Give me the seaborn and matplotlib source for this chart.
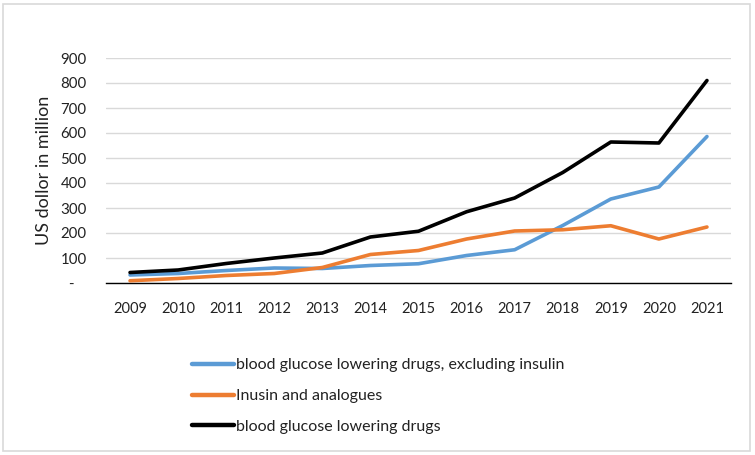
import matplotlib
matplotlib.use("Agg")
import matplotlib.pyplot as plt
import seaborn as sns
import pandas as pd
from matplotlib.patches import Rectangle

years = [2009, 2010, 2011, 2012, 2013, 2014, 2015, 2016, 2017, 2018, 2019, 2020, 2021]
excl_insulin = [32, 38, 50, 60, 58, 70, 77, 110, 133, 230, 336, 384, 586]
insulin = [9, 18, 30, 38, 62, 114, 130, 176, 208, 213, 229, 176, 224]
total = [42, 52, 78, 100, 120, 184, 207, 285, 340, 442, 564, 560, 810]

names = ["blood glucose lowering drugs, excluding insulin",
         "Inusin and analogues",
         "blood glucose lowering drugs"]
colors = ["#5B9BD5", "#ED7D31", "#000000"]
yticks = [0, 100, 200, 300, 400, 500, 600, 700, 800, 900]
ylabels = ["-   "] + [str(v) for v in yticks[1:]]

rows = []
for name, vals in zip(names, [excl_insulin, insulin, total]):
    for i, (yr, v) in enumerate(zip(years, vals)):
        rows.append({"idx": i, "year": yr, "value": v, "series": name})
df = pd.DataFrame(rows)

sns.set_theme(style="white")
plt.rcParams['font.family'] = ['Lato', 'DejaVu Sans']

fig = plt.figure(figsize=(7.55, 4.55), dpi=100)
ax = fig.add_axes([106 / 755, (455 - 283) / 455, (731 - 106) / 755, 225 / 455])

sns.lineplot(data=df, x="idx", y="value", hue="series", hue_order=names,
             palette=colors, linewidth=2.6, ax=ax, legend=True, sort=False)

ax.set_xlim(-0.5, len(years) - 0.5)
ax.set_ylim(0, 900)
ax.set_xticks(range(len(years)))
ax.set_xticklabels([str(y) for y in years], fontsize=10.5, color="#222222")
ax.set_yticks(yticks)
ax.set_yticklabels(ylabels, fontsize=10.8, color="#222222")
ax.tick_params(axis="y", length=0, pad=14)
ax.tick_params(axis="x", length=0, pad=14)
ax.grid(axis="y", color="#D9D9D9", linewidth=1)
ax.set_axisbelow(True)
for s in ["left", "right", "top"]:
    ax.spines[s].set_visible(False)
ax.spines["bottom"].set_color("#000000")
ax.spines["bottom"].set_linewidth(1.0)
ax.spines["bottom"].set_zorder(1)
ax.set_xlabel("")
ax.set_ylabel("US dollor in million", fontsize=13, color="#222222")
ax.yaxis.set_label_coords(-54 / 625, 0.5)

handles, labels = ax.get_legend_handles_labels()
ax.get_legend().remove()
for h in handles:
    h.set_linewidth(3.2)
fig.legend(handles, labels, loc="upper left",
           bbox_to_anchor=(192 / 755, 1 - 358 / 455), frameon=False,
           fontsize=11.5, handlelength=2.6, handletextpad=0.15,
           labelspacing=1.05, borderpad=0, borderaxespad=0,
           labelcolor="#222222")

fig.patches.append(Rectangle((3 / 755, 4 / 455), 747 / 755, 447 / 455,
                             transform=fig.transFigure, fill=False,
                             edgecolor="#D9D9D9", linewidth=1.2))

fig.savefig("out.png", dpi=100, facecolor="white")
